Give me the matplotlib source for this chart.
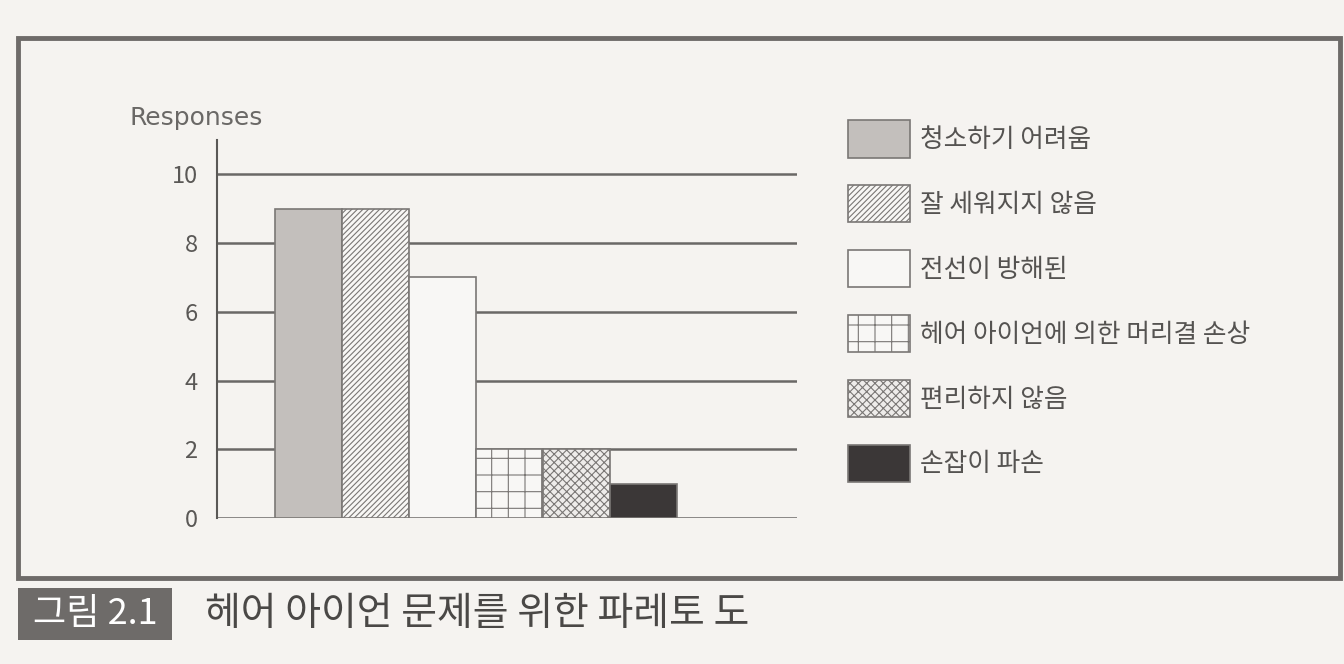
import matplotlib
matplotlib.use("Agg")
import matplotlib.pyplot as plt
from matplotlib.patches import Rectangle

plt.rcParams['font.family'] = ['Noto Sans CJK KR', 'DejaVu Sans']
plt.rcParams['hatch.color'] = '#b5b2af'
plt.rcParams['hatch.linewidth'] = 0.8

# 데이터
categories = ["청소하기 어려움", "잘 세워지지 않음", "전선이 방해된",
              "헤어 아이언에 의한 머리결 손상", "편리하지 않음", "손잡이 파손"]
responses = [9, 9, 7, 2, 2, 1]
yticks = [0, 2, 4, 6, 8, 10]

fills = ["#c3bfbc", "#f8f7f5", "#f8f7f5", "#f8f7f5", "#eeecea", "#3b3737"]
hatches = [None, "//////", None, "+", "xxxx", None]

bg = "#f5f3f0"
fig = plt.figure(figsize=(13.44, 6.64), dpi=100, facecolor=bg)

# 바깥 테두리
fig.add_artist(Rectangle((18/1344, 1-578/664), (1340-18)/1344, (578-38)/664,
                         transform=fig.transFigure, fill=False,
                         edgecolor="#6e6b69", linewidth=3.5))

ax = fig.add_axes([217/1344, 1-518/664, (797-217)/1344, (518-140)/664])
ax.set_facecolor(bg)

for y in yticks:
    ax.axhline(y, color="#6a6866", linewidth=1.8, zorder=1)

x = list(range(len(responses)))
bars = ax.bar(x, responses, width=1.0, color=fills, edgecolor="#7a7775",
              linewidth=1.2, zorder=2, label=categories)
for b, h in zip(bars, hatches):
    if h:
        b.set_hatch(h)

ax.set_xlim(-1.37, 7.29)
ax.set_ylim(0, 11)
ax.set_yticks(yticks)
ax.set_xticks([])
ax.tick_params(axis="y", length=0, pad=14, labelsize=17, labelcolor="#5a5856")
for s in ["top", "right", "bottom"]:
    ax.spines[s].set_visible(False)
ax.spines["left"].set_color("#5a5856")
ax.spines["left"].set_linewidth(1.5)

fig.text(130/1344, 1-118/664, "Responses", fontsize=18, color="#6a6866",
         va="center", ha="left", family=["DejaVu Sans"])

leg = ax.legend(bars, categories, loc="upper left",
                bbox_to_anchor=(838/1344, 1-110/664), bbox_transform=fig.transFigure,
                frameon=False, fontsize=18.5, handlelength=2.4, handleheight=1.86,
                labelspacing=1.07, handletextpad=0.4, borderaxespad=0)
for t in leg.get_texts():
    t.set_color("#555351")

# 그림 캡션
fig.add_artist(Rectangle((18/1344, 1-640/664), (172-18)/1344, (640-588)/664,
                         transform=fig.transFigure, facecolor="#6e6b69",
                         edgecolor="none"))
fig.text(95/1344, 1-614/664, "그림 2.1", fontsize=26, color="white",
         ha="center", va="center")
fig.text(205/1344, 1-614/664, "헤어 아이언 문제를 위한 파레토 도", fontsize=28,
         color="#4a4846", ha="left", va="center")

fig.savefig("out.png", dpi=100, facecolor=bg)
